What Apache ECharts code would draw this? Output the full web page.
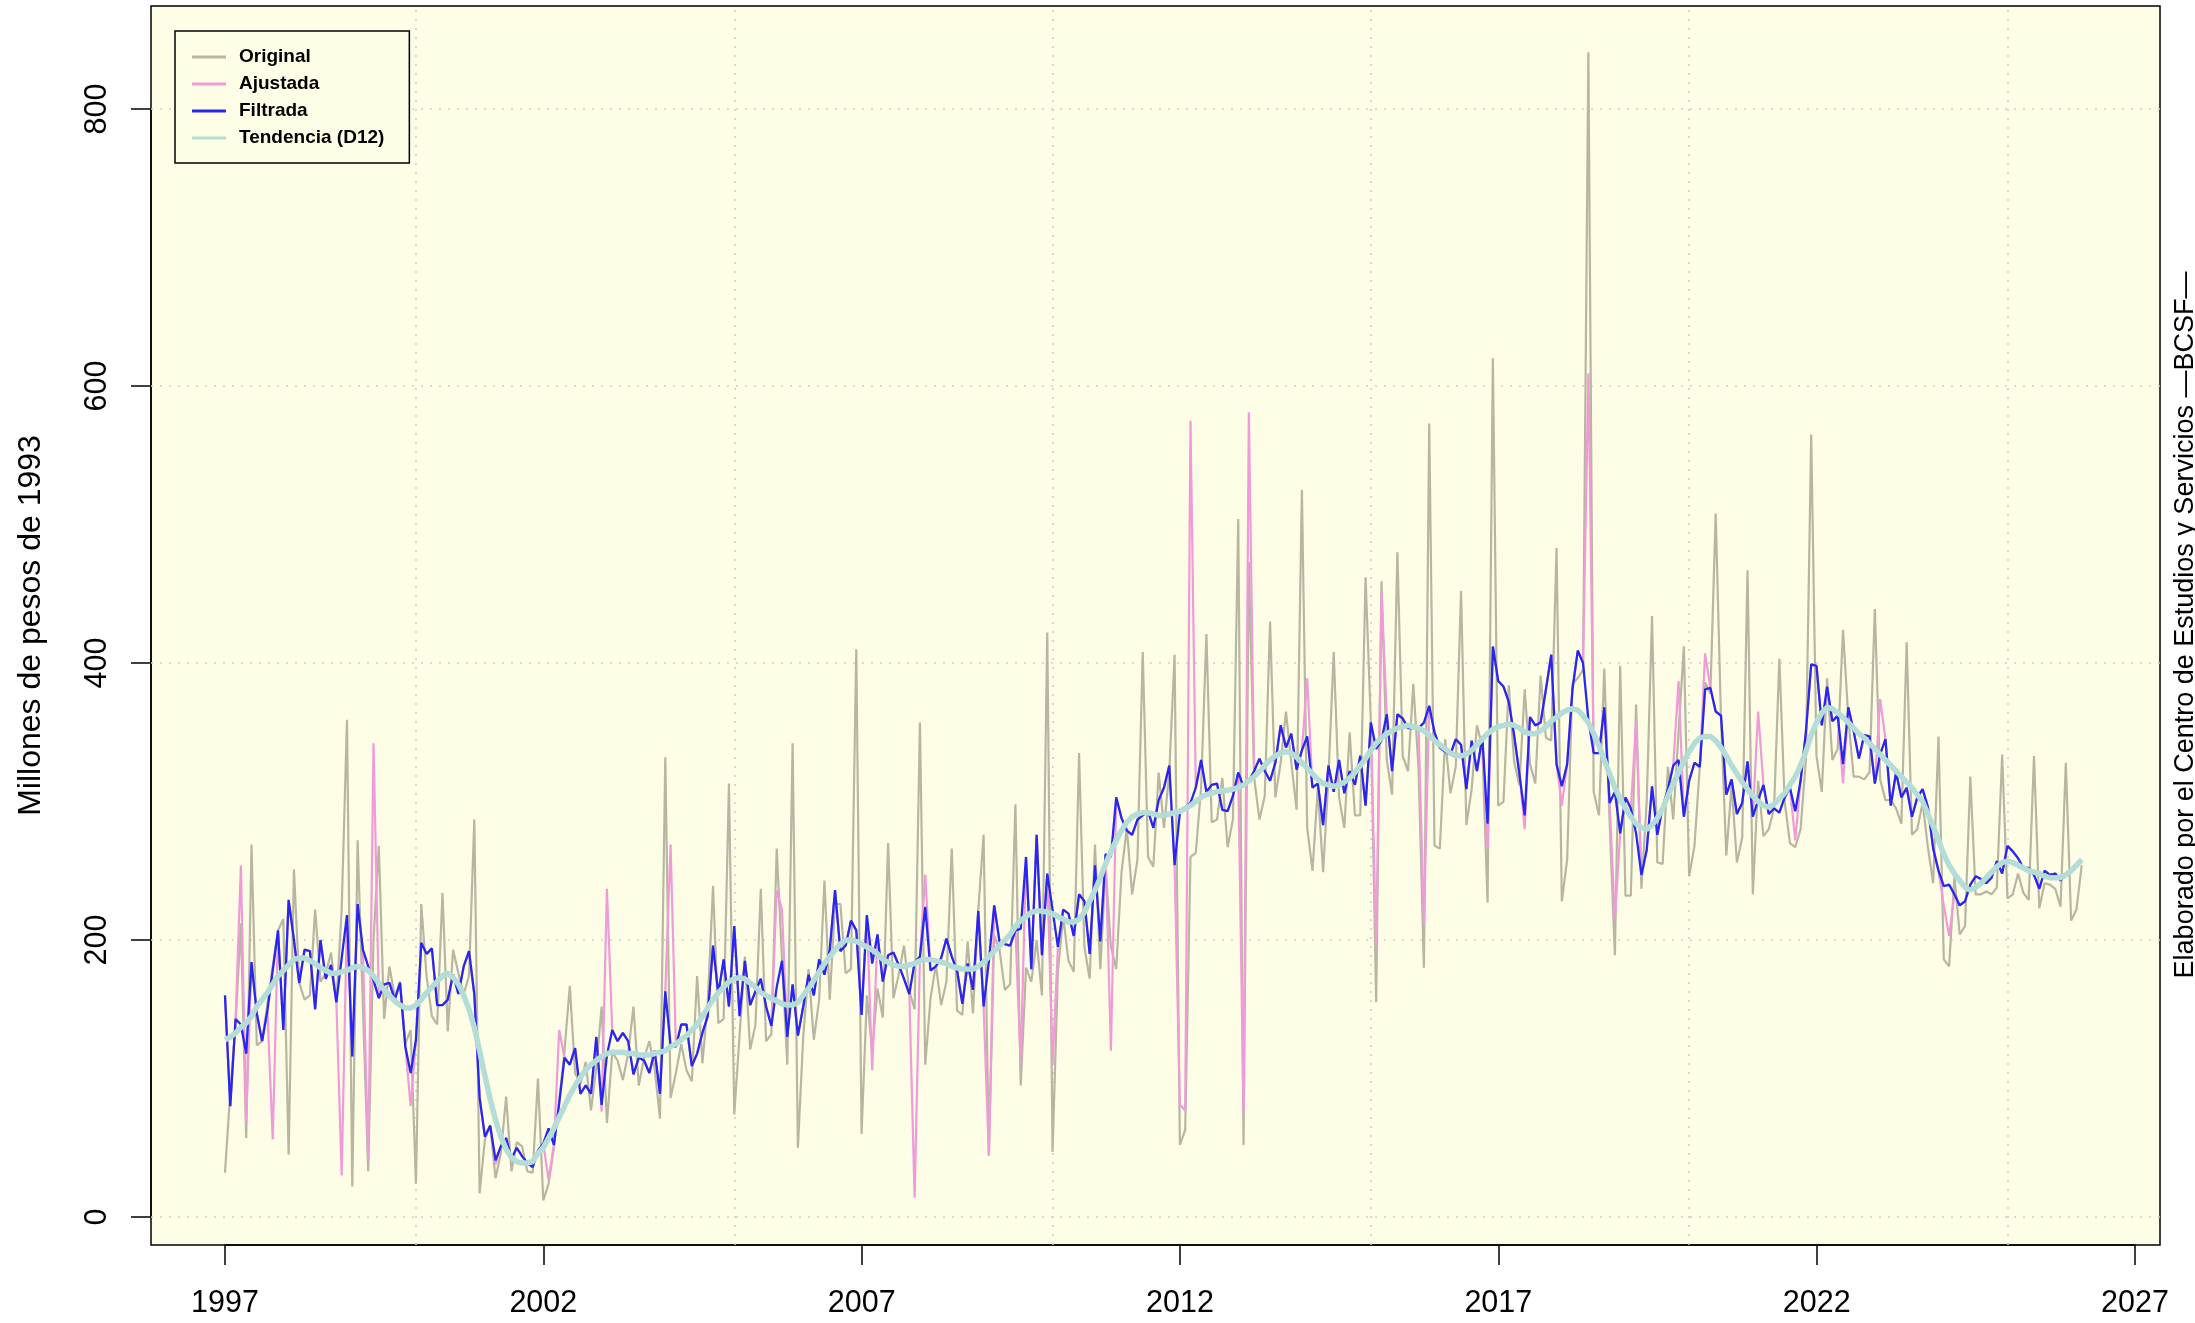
<!DOCTYPE html>
<html>
<head>
<meta charset="utf-8">
<script src="https://cdn.jsdelivr.net/npm/echarts@6/dist/echarts.min.js"></script>
<style>
html,body{margin:0;padding:0;background:#ffffff;}
#chart{width:2195px;height:1323px;}
</style>
</head>
<body>
<div id="chart"></div>
<script>
// Monthly series, January 1997 to March 2026 (one row per year)
const startYear = 1997;
const seriesNames = ['Original', 'Ajustada', 'Filtrada', 'Tendencia (D12)'];
const xTickYears = [1997, 2002, 2007, 2012, 2017, 2022, 2027];
const gridYears = [2000, 2005, 2010, 2015, 2020, 2025];
const gridValues = [0, 200, 400, 600, 800];
const yTickValues = [0, 200, 400, 600, 800];

const original = [
  32,90,140,212,57,269,124,127,154,181,207,215,
  45,251,169,157,160,222,170,176,191,155,222,359,
  22,272,152,33,200,268,143,181,159,170,125,135,
  24,226,174,145,139,234,134,193,176,161,174,287,
  17,56,66,28,46,87,33,54,51,33,32,100,
  12,24,50,84,120,167,104,96,112,77,108,152,
  68,119,113,99,118,152,95,115,127,107,71,332,
  86,104,125,106,98,174,111,155,239,140,143,313,
  74,131,188,121,139,237,127,132,266,186,110,342,
  50,130,179,128,157,243,157,226,226,176,179,410,
  60,160,120,165,144,270,158,175,196,163,150,357,
  110,158,182,153,170,266,149,146,199,147,222,276,
  45,203,193,164,168,298,95,180,170,200,160,422,
  47,177,217,185,177,335,195,172,269,179,253,195,
  179,249,281,233,258,408,260,253,321,281,321,406,
  52,63,260,263,310,421,285,287,317,267,287,504,
  52,473,317,287,304,430,303,328,365,328,294,525,
  281,250,310,249,317,408,303,281,350,290,290,462,
  357,155,459,330,305,480,333,322,385,323,180,573,
  268,266,345,306,325,452,283,309,355,340,227,620,
  297,300,384,329,312,381,327,313,391,346,344,483,
  228,258,385,389,395,841,307,290,396,286,189,398,
  232,232,370,237,300,434,256,255,325,287,350,412,
  246,268,325,386,378,508,360,261,312,256,274,467,
  233,315,275,280,295,403,300,270,267,280,330,565,
  333,307,389,330,338,424,360,318,318,316,321,439,
  316,301,301,295,284,415,276,280,299,267,241,347,
  186,181,246,204,210,318,233,233,235,233,238,334,
  230,233,248,234,229,333,223,241,240,237,224,328,
  214,222,254
];

const ajustada = [
  160,80,143,254,68,184,147,127,149,56,207,135,
  229,200,169,193,192,150,200,172,182,155,30,218,
  116,226,193,41,342,158,168,169,157,169,123,80,
  128,198,190,194,153,153,157,175,161,181,192,161,
  86,58,66,38,51,57,42,50,44,39,36,48,
  53,27,52,135,115,110,122,89,95,89,130,76,
  237,135,127,133,127,103,115,113,104,120,89,163,
  269,123,139,139,109,118,133,145,196,161,186,152,
  210,145,185,153,163,172,152,138,236,222,130,168,
  131,152,175,160,186,175,193,236,192,196,214,207,
  146,218,106,204,170,189,191,182,172,161,14,188,
  247,178,181,187,201,188,178,154,183,164,221,152,
  44,225,199,197,196,207,110,260,179,276,189,248,
  110,195,222,219,203,233,228,190,254,199,262,120,
  303,288,279,276,287,290,293,281,301,310,326,254,
  81,77,575,310,330,307,312,313,294,293,304,321,
  75,581,322,331,322,315,328,355,339,349,323,337,
  389,310,313,283,326,307,330,306,322,312,333,297,
  357,196,451,363,322,363,360,353,353,353,212,369,
  350,339,336,334,345,341,309,344,322,347,267,412,
  387,383,372,348,320,280,361,355,357,381,406,327,
  297,327,381,409,400,609,335,335,368,299,215,277,
  303,295,357,247,265,311,276,296,309,326,387,289,
  315,328,325,407,382,365,362,305,316,291,299,329,
  289,365,312,291,295,292,303,310,272,315,350,399,
  398,355,383,358,362,313,368,351,331,348,347,313,
  374,345,297,321,303,310,289,303,309,296,266,250,
  225,203,233,225,228,240,246,244,241,245,257,248,
  268,264,259,252,252,247,237,250,247,248,243,247,
  250,254,257
];

const filtrada = [
  160,80,143,139,118,184,147,127,149,178,207,135,
  229,200,169,193,192,150,200,172,182,155,187,218,
  116,226,193,181,171,158,168,169,157,169,123,104,
  128,198,190,194,153,153,157,175,161,181,192,161,
  86,58,66,41,51,57,42,50,44,39,36,48,
  53,64,52,82,115,110,122,89,95,89,130,81,
  117,135,127,133,127,103,115,113,104,120,89,163,
  124,123,139,139,109,118,133,145,196,161,186,152,
  210,145,185,153,163,172,152,138,166,185,130,168,
  131,152,175,160,186,175,193,236,192,196,214,207,
  146,218,183,204,170,189,191,182,172,161,184,188,
  224,178,181,187,201,188,178,154,183,164,221,152,
  185,225,199,197,196,207,208,260,179,276,189,248,
  222,195,222,219,203,233,228,190,254,199,262,260,
  303,288,279,276,287,290,293,281,301,310,326,254,
  292,296,299,310,330,307,312,313,294,293,304,321,
  311,315,322,331,322,315,328,355,339,349,323,337,
  347,310,313,283,326,307,330,306,322,312,333,297,
  357,338,344,363,322,363,360,353,353,353,357,369,
  350,339,336,334,345,341,309,344,322,347,284,412,
  387,383,372,348,320,290,361,355,357,381,406,327,
  311,327,381,409,400,359,335,335,368,299,307,277,
  303,295,277,247,265,311,276,296,309,326,330,289,
  315,328,325,381,382,365,362,305,316,291,299,329,
  289,301,312,291,295,292,303,310,293,315,350,399,
  398,355,383,358,362,327,368,351,331,348,347,313,
  334,345,297,321,303,310,289,303,309,296,266,250,
  239,240,233,225,228,240,246,244,241,245,257,248,
  268,264,259,252,252,247,237,250,247,248,243,247,
  250,254,257
];

const tendencia = [
  128,130,133,137,140,145,152,157,162,168,174,178,
  182,186,187,187,185,183,180,178,176,176,177,178,
  180,181,180,178,174,169,164,160,156,153,151,151,
  153,157,162,166,170,174,176,173,168,160,150,137,
  120,102,85,70,58,49,43,40,39,39,40,46,
  50,57,64,72,80,88,95,101,106,110,113,116,
  118,119,119,119,118,118,117,117,117,118,119,120,
  123,125,128,131,135,139,145,151,157,162,166,170,
  172,173,172,169,166,162,160,158,156,154,153,153,
  155,160,165,171,177,183,188,193,197,200,200,199,
  197,195,193,190,186,184,182,181,181,182,183,185,
  186,186,185,184,183,181,180,179,179,179,181,184,
  188,192,196,200,204,210,214,217,220,221,221,220,
  219,217,215,213,213,215,220,228,236,245,255,264,
  272,279,285,289,291,292,292,291,290,290,291,292,
  293,295,297,300,303,305,306,307,308,308,309,310,
  312,315,318,322,326,330,333,335,336,335,332,328,
  324,320,316,313,312,311,312,314,317,321,326,331,
  337,342,346,349,351,353,354,355,354,353,351,348,
  344,341,338,335,333,333,334,337,341,345,349,352,
  354,355,356,355,353,350,349,349,351,354,358,361,
  364,366,367,366,362,357,349,340,330,320,310,302,
  295,289,284,281,280,283,288,295,304,313,321,329,
  336,342,346,347,347,344,339,333,326,320,314,309,
  304,300,297,296,298,302,306,312,318,326,336,348,
  357,364,368,367,364,361,357,353,349,346,342,338,
  334,330,326,322,318,314,310,305,300,291,282,272,
  262,254,248,243,238,236,238,241,245,249,253,256,
  257,256,254,252,250,249,248,246,245,245,245,247,
  250,254,258
];

function toXY(arr) { return arr.map((v, i) => [startYear + i / 12, v]); }

const FONT = '"Liberation Sans", Arial, Helvetica, sans-serif';
const chart = echarts.init(document.getElementById('chart'), null, {renderer: 'canvas'});

const gridMarks = gridYears.map(y => ({xAxis: y})).concat(gridValues.map(v => ({yAxis: v})));
const colors = ['#b8b6a1', '#f09ad9', '#2727ee', '#b3ddd6'];

chart.setOption({
  animation: false,
  backgroundColor: '#ffffff',
  textStyle: {fontFamily: FONT, color: '#000'},
  grid: [
    {left: 151, top: 6, width: 2009, height: 1239, show: true,
     backgroundColor: '#fefee6', borderColor: '#000', borderWidth: 1.5, containLabel: false},
    {left: 225, top: 1244, width: 1910, height: 1, show: false},
    {left: 151, top: 109, width: 1, height: 1108, show: false}
  ],
  xAxis: [
    {gridIndex: 0, type: 'value', min: 1995.838, max: 2027.396,
     axisLine: {show: false}, axisTick: {show: false}, axisLabel: {show: false}, splitLine: {show: false}},
    {gridIndex: 1, type: 'value', min: xTickYears[0], max: xTickYears[xTickYears.length - 1], interval: 5,
     position: 'bottom',
     axisLine: {show: true, onZero: false, lineStyle: {color: '#000', width: 1.5}},
     axisTick: {show: true, length: 20, lineStyle: {color: '#000', width: 1.5}},
     axisLabel: {show: true, fontSize: 30.5, margin: 43, color: '#000', fontFamily: FONT,
                 formatter: v => String(v)},
     splitLine: {show: false}},
    {gridIndex: 2, type: 'value', show: false, min: 0, max: 1}
  ],
  yAxis: [
    {gridIndex: 0, type: 'value', min: -20.2, max: 874.4,
     axisLine: {show: false}, axisTick: {show: false}, axisLabel: {show: false}, splitLine: {show: false},
     name: 'Millones de pesos de 1993', nameLocation: 'middle', nameGap: 104,
     nameTextStyle: {fontSize: 32, color: '#000', fontFamily: FONT}},
    {gridIndex: 1, type: 'value', show: false, min: 0, max: 1},
    {gridIndex: 2, type: 'value', min: yTickValues[0], max: yTickValues[yTickValues.length - 1], interval: 200,
     position: 'left',
     axisLine: {show: true, onZero: false, lineStyle: {color: '#000', width: 1.5}},
     axisTick: {show: true, length: 20, lineStyle: {color: '#000', width: 1.5}},
     axisLabel: {show: true, fontSize: 30.5, margin: 38, rotate: 90, color: '#000', fontFamily: FONT,
                 formatter: v => String(v)},
     splitLine: {show: false}}
  ],
  legend: {
    data: seriesNames.map((n, k) => ({name: n, icon: 'rect', itemStyle: {color: colors[k]}})),
    orient: 'vertical',
    left: 175, top: 31,
    backgroundColor: '#fefee6',
    borderColor: '#000', borderWidth: 1.5, borderRadius: 0,
    padding: [16, 25, 15, 17],
    itemWidth: 34, itemHeight: 3, itemGap: 7,
    textStyle: {fontSize: 19, fontWeight: 'bold', color: '#000', fontFamily: FONT,
                padding: [0, 0, 0, 8], lineHeight: 20},
    selectedMode: false
  },
  graphic: [
    {type: 'text', x: 2186, y: 625, rotation: Math.PI / 2,
     style: {text: 'Elaborado por el Centro de Estudios y Servicios \u2014BCSF\u2014',
             fontSize: 27, fontFamily: FONT, fill: '#000', align: 'center', verticalAlign: 'middle'}}
  ],
  series: [
    {name: seriesNames[0], type: 'line', xAxisIndex: 0, yAxisIndex: 0, data: toXY(original),
     symbol: 'none', showSymbol: false, z: 2,
     lineStyle: {color: colors[0], width: 2.2}, itemStyle: {color: colors[0]},
     markLine: {silent: true, symbol: 'none', z: 1, label: {show: false},
                lineStyle: {color: '#cfcfc8', width: 1.6, type: [2, 7]},
                emphasis: {disabled: true}, data: gridMarks}},
    {name: seriesNames[1], type: 'line', xAxisIndex: 0, yAxisIndex: 0, data: toXY(ajustada),
     symbol: 'none', showSymbol: false, z: 3,
     lineStyle: {color: colors[1], width: 2.2}, itemStyle: {color: colors[1]}},
    {name: seriesNames[2], type: 'line', xAxisIndex: 0, yAxisIndex: 0, data: toXY(filtrada),
     symbol: 'none', showSymbol: false, z: 4,
     lineStyle: {color: colors[2], width: 2.3}, itemStyle: {color: colors[2]}},
    {name: seriesNames[3], type: 'line', xAxisIndex: 0, yAxisIndex: 0, data: toXY(tendencia),
     symbol: 'none', showSymbol: false, z: 5,
     lineStyle: {color: colors[3], width: 5.5}, itemStyle: {color: colors[3]}}
  ]
});
</script>
</body>
</html>
